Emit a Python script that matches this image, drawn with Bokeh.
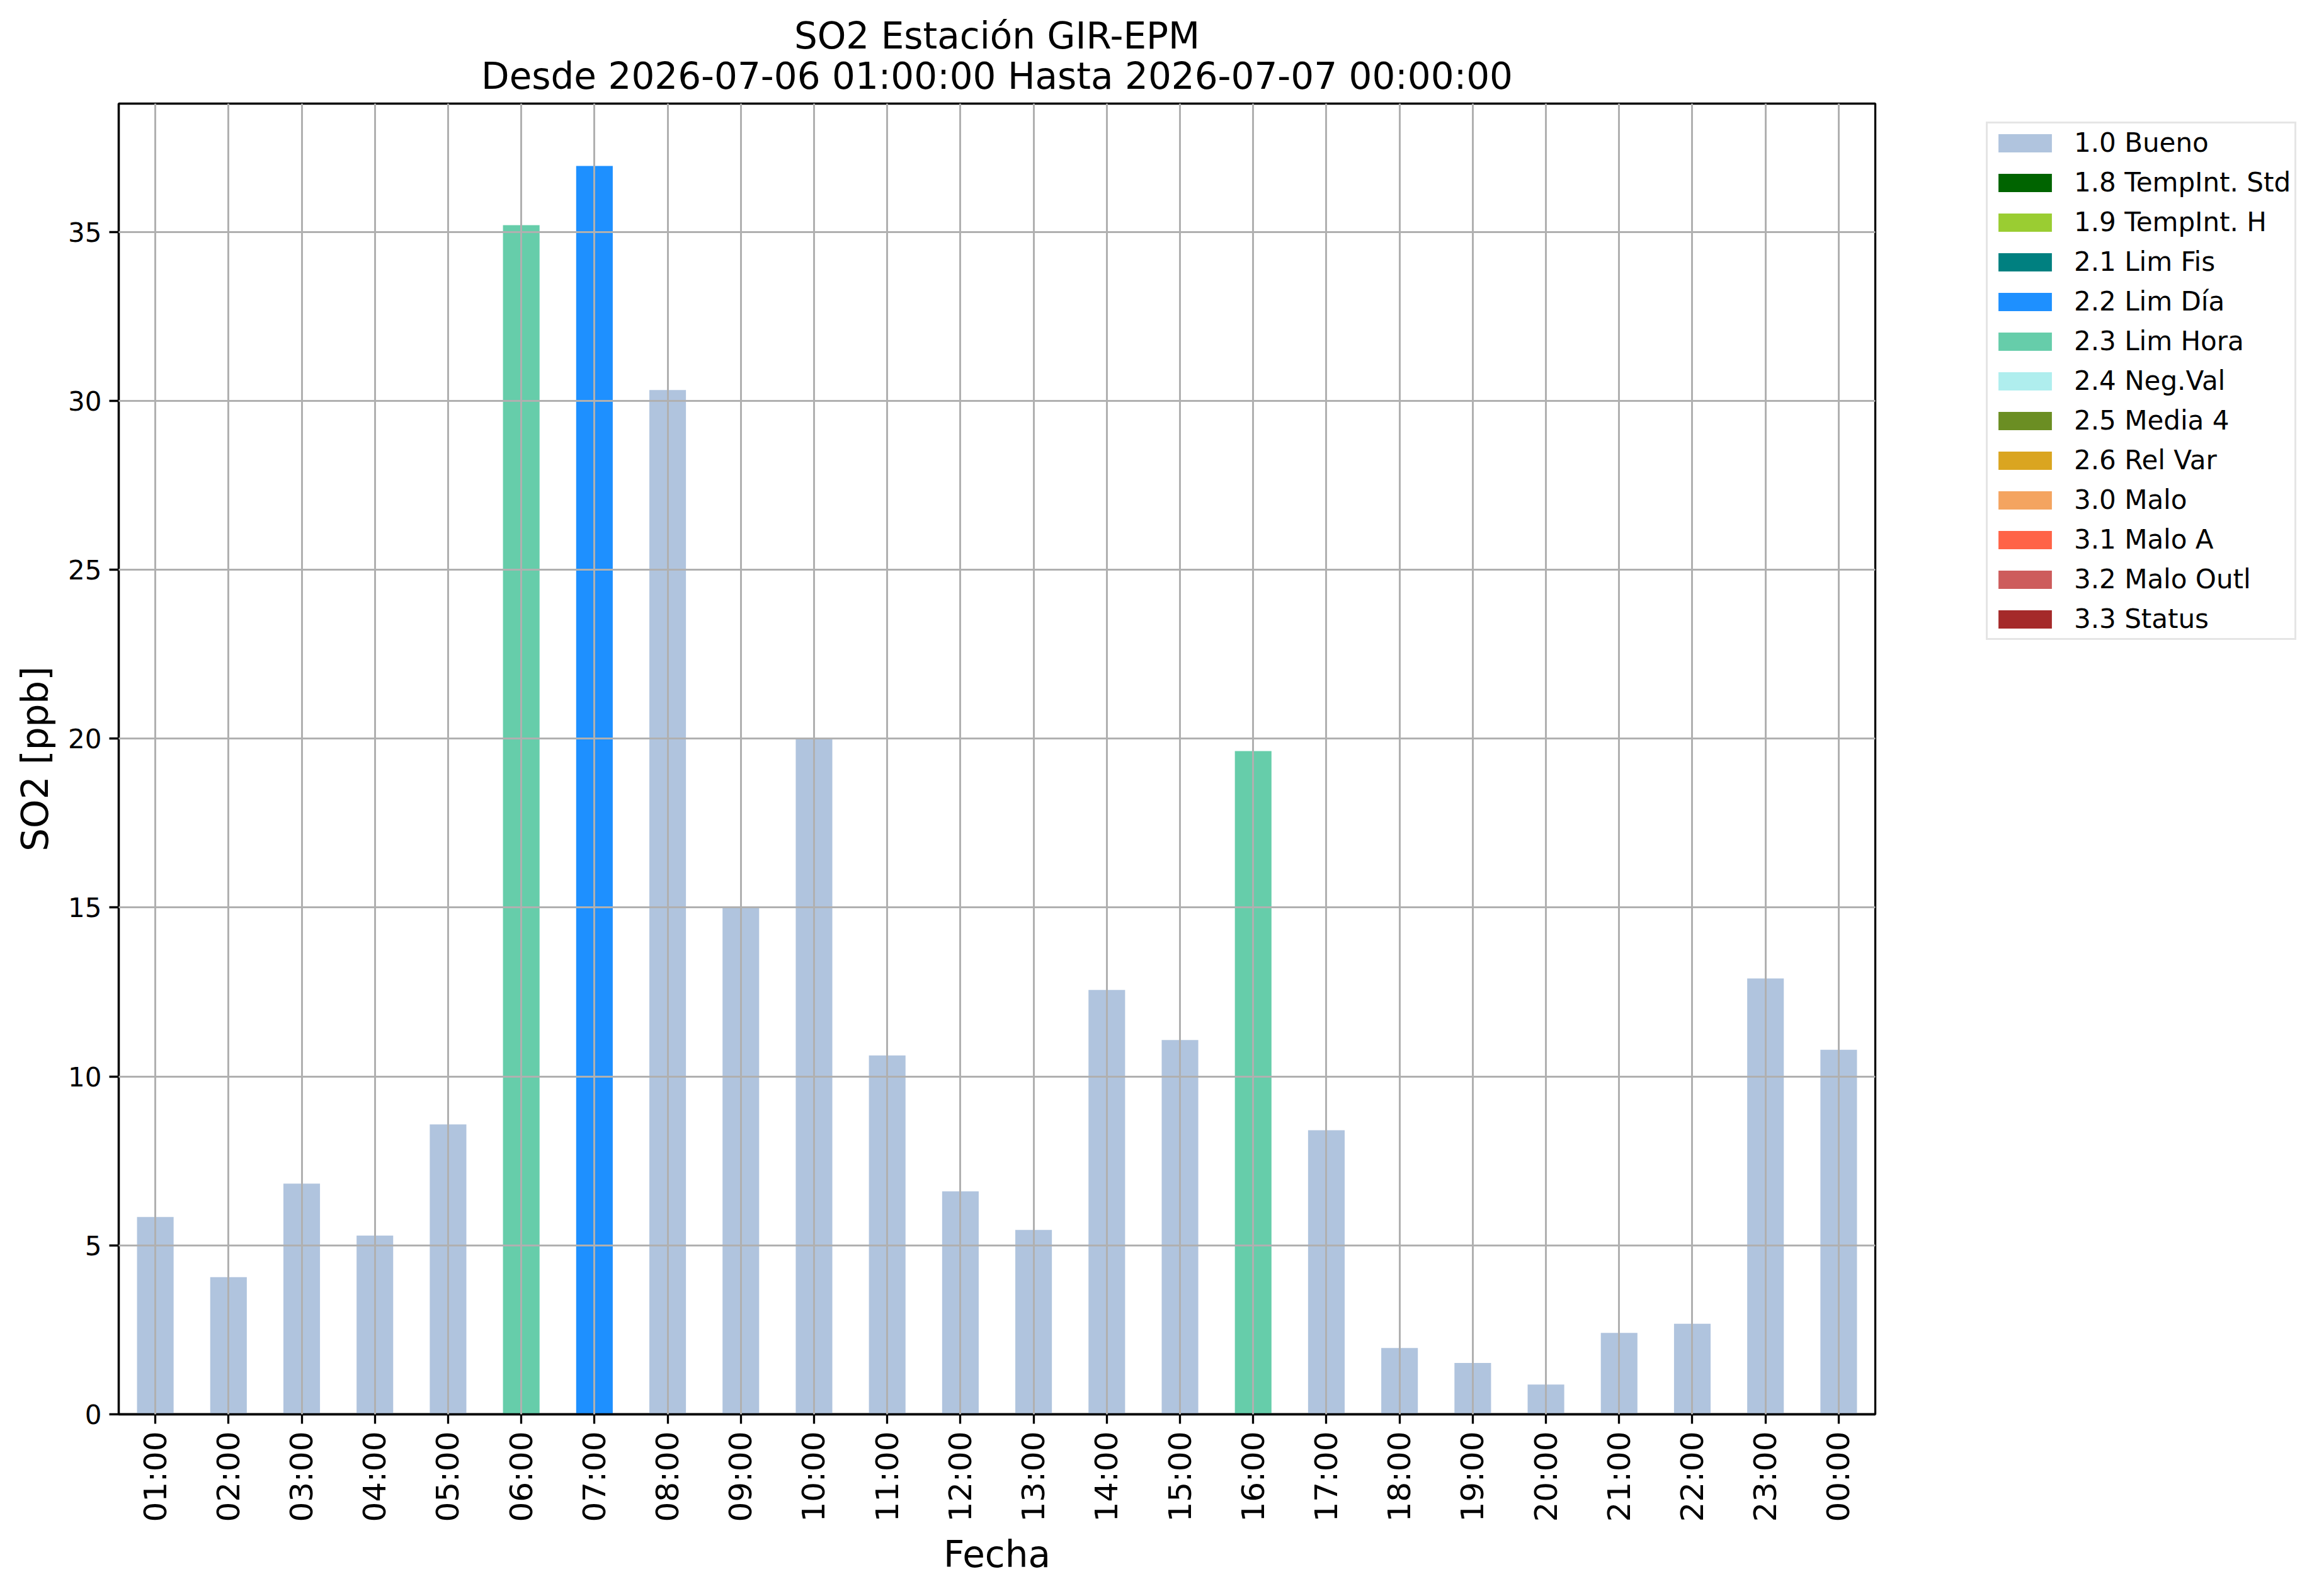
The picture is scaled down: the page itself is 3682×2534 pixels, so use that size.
import math
from bokeh.plotting import figure
from bokeh.models import ColumnDataSource, Legend, LegendItem, FixedTicker, Range1d, Title
from bokeh.embed import file_html
from bokeh.resources import INLINE

hours = ["01:00", "02:00", "03:00", "04:00", "05:00", "06:00", "07:00", "08:00",
         "09:00", "10:00", "11:00", "12:00", "13:00", "14:00", "15:00", "16:00",
         "17:00", "18:00", "19:00", "20:00", "21:00", "22:00", "23:00", "00:00"]
so2 = [5.84, 4.06, 6.83, 5.29, 8.58, 35.20, 36.95, 30.32, 14.99, 20.00, 10.62, 6.60,
       5.46, 12.56, 11.08, 19.63, 8.41, 1.96, 1.52, 0.88, 2.41, 2.68, 12.90, 10.79]
flags = ["1.0 Bueno"] * 24
flags[5] = "2.3 Lim Hora"
flags[6] = "2.2 Lim Día"
flags[15] = "2.3 Lim Hora"

flag_names = ["1.0 Bueno", "1.8 TempInt. Std", "1.9 TempInt. H", "2.1 Lim Fis",
              "2.2 Lim Día", "2.3 Lim Hora", "2.4 Neg.Val", "2.5 Media 4",
              "2.6 Rel Var", "3.0 Malo", "3.1 Malo A", "3.2 Malo Outl", "3.3 Status"]
flag_colors = ["#B0C4DE", "#006400", "#9ACD32", "#008080", "#1E90FF", "#66CDAA",
               "#AFEEEE", "#6B8E23", "#DAA520", "#F4A460", "#FF6347", "#CD5C5C",
               "#A52A2A"]
y_ticks = [0, 5, 10, 15, 20, 25, 30, 35]

title_line1 = "SO2 Estación GIR-EPM"
title_line2 = "Desde 2026-07-06 01:00:00 Hasta 2026-07-07 00:00:00"
FONT = "DejaVu Sans"

p = figure(x_range=hours, y_range=Range1d(0, max(so2) * 1.05),
           frame_width=2789, frame_height=2081,
           min_border_left=188, min_border_right=689,
           min_border_top=164, min_border_bottom=273,
           output_backend="svg", toolbar_location=None)
p.title = None

t2 = Title(text=title_line2, align="center", text_font=FONT, text_font_size="58px",
           text_font_style="normal", text_color="black", standoff=19)
t1 = Title(text=title_line1, align="center", text_font=FONT, text_font_size="58px",
           text_font_style="normal", text_color="black", standoff=-31)
p.add_layout(t2, "above")
p.add_layout(t1, "above")

items = []
for name, color in zip(flag_names, flag_colors):
    xs = [h for h, f in zip(hours, flags) if f == name]
    ys = [v for v, f in zip(so2, flags) if f == name]
    if not xs:
        # flag not present in this period: placeholder row that draws nothing
        xs, ys = [hours[0]], [float("nan")]
    src = ColumnDataSource(dict(x=xs, top=ys))
    r = p.vbar(x="x", top="top", bottom=0, width=0.5, source=src,
               fill_color=color, line_color=None)
    items.append(LegendItem(label=name, renderers=[r]))

legend = Legend(items=items, location=(176, 1229))
legend.label_text_font = FONT
legend.label_text_font_size = "42px"
legend.label_text_color = "black"
legend.label_height = 42
legend.glyph_height = 36
legend.glyph_width = 106
legend.label_standoff = 25
legend.spacing = 14
legend.padding = 6
legend.margin = 0
legend.border_line_color = "#cccccc"
legend.border_line_width = 3
legend.background_fill_color = "white"
legend.background_fill_alpha = 0.8
p.add_layout(legend, "right")

for g in (p.xgrid, p.ygrid):
    g.grid_line_color = "#b0b0b0"
    g.grid_line_width = 3
    g.level = "guide"

p.outline_line_color = "black"
p.outline_line_width = 3.3
p.outline_line_alpha = 1.0

p.yaxis.ticker = FixedTicker(ticks=y_ticks)
p.yaxis.minor_tick_line_color = None
for ax in (p.xaxis, p.yaxis):
    ax.axis_line_color = "black"
    ax.axis_line_width = 3.3
    ax.major_tick_line_color = "black"
    ax.major_tick_line_width = 3.3
    ax.major_tick_out = 15
    ax.major_tick_in = 0
    ax.major_label_text_font = FONT
    ax.major_label_text_color = "black"
    ax.axis_label_text_font = FONT
    ax.axis_label_text_color = "black"
    ax.axis_label_text_font_size = "58px"
    ax.axis_label_text_font_style = "normal"

p.yaxis.major_label_text_font_size = "42px"
p.yaxis.major_label_standoff = 12
p.yaxis.axis_label = "SO2 [ppb]"
p.yaxis.axis_label_standoff = 15

p.xaxis.major_label_text_font_size = "50px"
p.xaxis.major_label_orientation = math.pi / 2
p.xaxis.major_label_standoff = 12
p.xaxis.axis_label = "Fecha"
p.xaxis.axis_label_standoff = 14

p.background_fill_color = "white"
p.border_fill_color = "white"

open("out.html", "w").write(file_html(p, INLINE))
